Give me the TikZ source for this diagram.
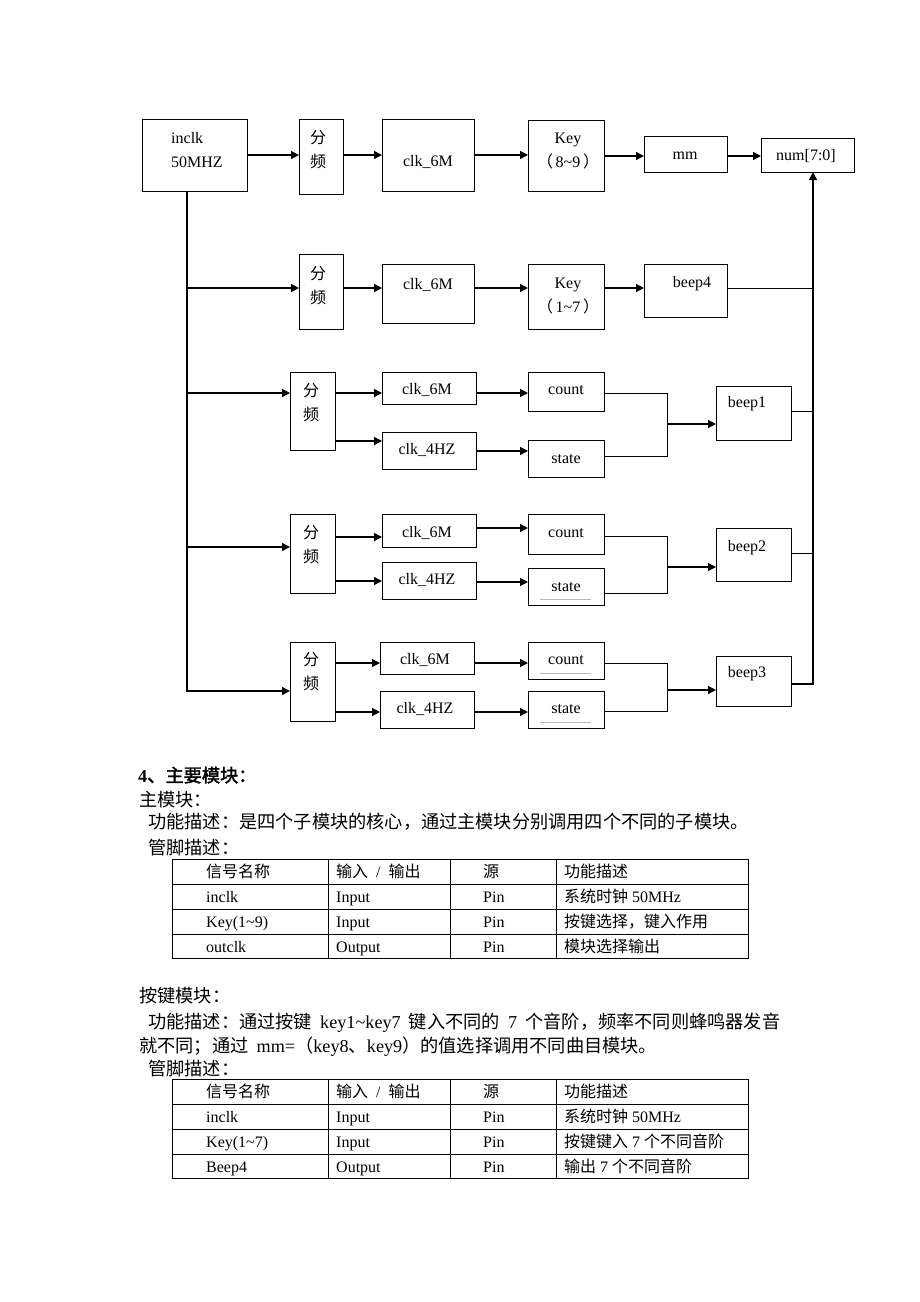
\documentclass[tikz,border=0pt]{standalone}
\usepackage{fontspec}
\setmainfont{Liberation Serif}
\newfontfamily\cjk{Noto Sans CJK SC}[AutoFakeBold=2]
\usetikzlibrary{arrows.meta,fit,calc}
\newcommand{\zh}[1]{{\cjk #1}}
% box from corner to corner, text node placed on its own
\newcommand{\blockat}[8][]{
  \node[block,fit={(#3,#4) (#5,#6)}] (#2) {};
  \node[tag,#1] (#2-text) at (#7) {#8};
}

\begin{document}
\begin{tikzpicture}[
    x=1pt,y=-1pt,
    block/.style={draw,line width=0.9pt,inner sep=0pt,outer sep=0pt},
    tag/.style={inner sep=0pt,align=center,font=\fontsize{16}{24}\selectfont},
    dependency/.style={line width=1.3pt,-{Triangle[length=8pt,width=8pt]}},
    wire/.style={line width=1pt},
    spell line/.style={gray!55,line width=0.6pt},
    body/.style={anchor=base west,inner sep=0pt,font=\fontsize{18.2}{24}\selectfont},
    cell/.style={anchor=base west,inner sep=0pt,font=\fontsize{16}{20}\selectfont},
    grid line/.style={line width=0.8pt},
  ]
  \fill[white] (0,0) rectangle (920,1302);
  \path[use as bounding box] (0,0) rectangle (920,1302);

  % first row
  \blockat[align=left]{inclk}{142}{119}{247}{191}{197,150}{inclk\\50MHZ}
  \blockat{div1}{299}{119}{343}{194}{318,150}{\zh{分}\\\zh{频}}
  \blockat{clk1}{382}{119}{474}{191}{428,162}{clk\_6M}
  \blockat{key1}{528}{120}{604}{191}{568,151.5}{Key\\\zh{（}\,8\textasciitilde 9\,\zh{）}}
  \blockat{mm}{644}{136}{727}{172}{685,156}{mm}
  \blockat{num}{761}{138}{854}{172}{806,156}{num[7:0]}

  % second row
  \blockat{div2}{299}{254}{343}{329}{318,285.5}{\zh{分}\\\zh{频}}
  \blockat{clk2}{382}{264}{474}{323}{428,285}{clk\_6M}
  \blockat{key2}{528}{264}{604}{329}{568,296}{Key\\\zh{（}\,1\textasciitilde 7\,\zh{）}}
  \blockat{beep4}{644}{264}{727}{317}{692,284}{beep4}

  % song rows
  \blockat{r3-div}{290}{372}{335}{450}{311,402.5}{\zh{分}\\\zh{频}}
  \blockat{r3-clk6m}{382}{372}{476}{404}{427,390}{clk\_6M}
  \blockat{r3-clk4hz}{382}{432}{476}{469}{427,450}{clk\_4HZ}
  \blockat{r3-count}{528}{372}{604}{411}{566,390}{count}
  \blockat{beep1}{716}{386}{791}{440}{747,404}{beep1}
  \blockat{r3-state}{528}{440}{604}{477}{566,459}{state}

  \blockat{r4-div}{290}{514}{335}{593}{311,545}{\zh{分}\\\zh{频}}
  \blockat{r4-clk6m}{382}{514}{476}{547}{427,533}{clk\_6M}
  \blockat{r4-clk4hz}{382}{562}{476}{599}{427,580}{clk\_4HZ}
  \blockat{r4-count}{528}{514}{604}{554}{566,533}{count}
  \blockat{r4-state}{528}{568}{604}{605}{566,587}{state}
  \blockat{beep2}{716}{528}{791}{581}{747,548}{beep2}

  \blockat{r5-div}{290}{642}{335}{721}{311,672}{\zh{分}\\\zh{频}}
  \blockat{r5-clk6m}{380}{642}{474}{674}{425,660}{clk\_6M}
  \blockat{r5-clk4hz}{380}{691}{474}{728}{425,709}{clk\_4HZ}
  \blockat{r5-count}{528}{642}{604}{679}{566,660}{count}
  \blockat{r5-state}{528}{691}{604}{728}{566,709}{state}
  \blockat{beep3}{716}{656}{791}{706}{747,674}{beep3}

  \foreach \n in {r4-state,r5-count,r5-state}
    \draw[spell line] ([xshift=12pt,yshift=6pt]\n.south west) -- ([xshift=-13pt,yshift=6pt]\n.south east);

  \coordinate (trunk) at (187,0);
  \coordinate (merge) at (667,0);
  \coordinate (bus) at (813,0);

  \foreach \a/\b/\y in {inclk/div1/155,div1/clk1/155,clk1/key1/155,key1/mm/156,mm/num/156,
      div2/clk2/288,clk2/key2/288,key2/beep4/288,
      r3-div/r3-clk6m/393,r3-div/r3-clk4hz/441,r3-clk6m/r3-count/393,r3-clk4hz/r3-state/451,
      r4-div/r4-clk6m/537,r4-div/r4-clk4hz/581,r4-clk6m/r4-count/528,r4-clk4hz/r4-state/582,
      r5-div/r5-clk6m/663,r5-div/r5-clk4hz/712,r5-clk6m/r5-count/663,r5-clk4hz/r5-state/712} {
    \draw[dependency] (\a.east |- 0,\y) -- (\b.west |- 0,\y);
  }

  \draw[dependency] (trunk |- inclk.south) |- (r5-div.west |- 0,691);
  \foreach \d/\y in {div2/288,r3-div/393,r4-div/547}
    \draw[dependency] (trunk |- 0,\y) -- (\d.west |- 0,\y);

  \foreach \r/\c/\s/\j/\b in {r3/393/456/424/beep1,r4/536/593/567/beep2,r5/663/711/690/beep3} {
    \draw[wire] (\r-count.east |- 0,\c) -| (merge |- 0,\s) -- (\r-state.east |- 0,\s);
    \draw[dependency] (merge |- 0,\j) -- (\b.west |- 0,\j);
  }

  \foreach \b/\y in {beep4/288,beep1/411,beep2/553}
    \draw[wire] (\b.east |- 0,\y) -- (bus |- 0,\y);
  \draw[dependency] (beep3.east |- 0,684) -| (bus |- num.south);

  % text below the diagram
  \node[body,font=\fontsize{18.2}{24}\selectfont\bfseries] (sec4) at (138,782) {4\zh{、主要模块：}};
  \node[body] (main-title) at (139,806) {\zh{主模块：}};
  \node[body] (main-func) at (148,828) {\zh{功能描述：是四个子模块的核心，通过主模块分别调用四个不同的子模块。}};
  \node[body] (main-pins) at (148,854) {\zh{管脚描述：}};

  \node[body] (key-title) at (139,1002) {\zh{按键模块：}};
  \node[body] (key-func) at (148,1028)
    {\spaceskip=0.45em\relax\zh{功能描述：通过按键} key1\textasciitilde key7 \zh{键入不同的} 7 \zh{个音阶，频率不同则蜂鸣器发音}};
  \node[body] (key-func2) at (139,1052)
    {\spaceskip=0.45em\relax\zh{就不同；通过} mm=\zh{（}key8\zh{、}key9\zh{）的值选择调用不同曲目模块。}};
  \node[body] (key-pins) at (148,1075) {\zh{管脚描述：}};

  % pin tables
  \foreach \top in {859,1079} {
    \draw[grid line] (172,\top) rectangle (748,\top+99);
    \foreach \k in {1,2,3}
      \draw[grid line] (172,\top+25*\k) -- (748,\top+25*\k);
    \foreach \x in {328,450,556}
      \draw[grid line] (\x,\top) -- (\x,\top+99);
  }

  \foreach \a/\b/\c/\d [count=\i] in {{\zh{信号名称}}/{\zh{输入}\enspace/\enspace\zh{输出}}/{\zh{源}}/{\zh{功能描述}},
      inclk/Input/Pin/{\zh{系统时钟} 50MHz},
      {Key(1\textasciitilde 9)}/Input/Pin/{\zh{按键选择，键入作用}},
      outclk/Output/Pin/{\zh{模块选择输出}}} {
    \node[cell] (main-\i-1) at (206,852+25*\i) {\a};
    \node[cell] (main-\i-2) at (336,852+25*\i) {\b};
    \node[cell] (main-\i-3) at (483,852+25*\i) {\c};
    \node[cell] (main-\i-4) at (564,852+25*\i) {\d};
  }

  \foreach \a/\b/\c/\d [count=\i] in {{\zh{信号名称}}/{\zh{输入}\enspace/\enspace\zh{输出}}/{\zh{源}}/{\zh{功能描述}},
      inclk/Input/Pin/{\zh{系统时钟} 50MHz},
      {Key(1\textasciitilde 7)}/Input/Pin/{\zh{按键键入} 7 \zh{个不同音阶}},
      Beep4/Output/Pin/{\zh{输出} 7 \zh{个不同音阶}}} {
    \node[cell] (key-\i-1) at (206,1072+25*\i) {\a};
    \node[cell] (key-\i-2) at (336,1072+25*\i) {\b};
    \node[cell] (key-\i-3) at (483,1072+25*\i) {\c};
    \node[cell] (key-\i-4) at (564,1072+25*\i) {\d};
  }

\end{tikzpicture}
\end{document}
